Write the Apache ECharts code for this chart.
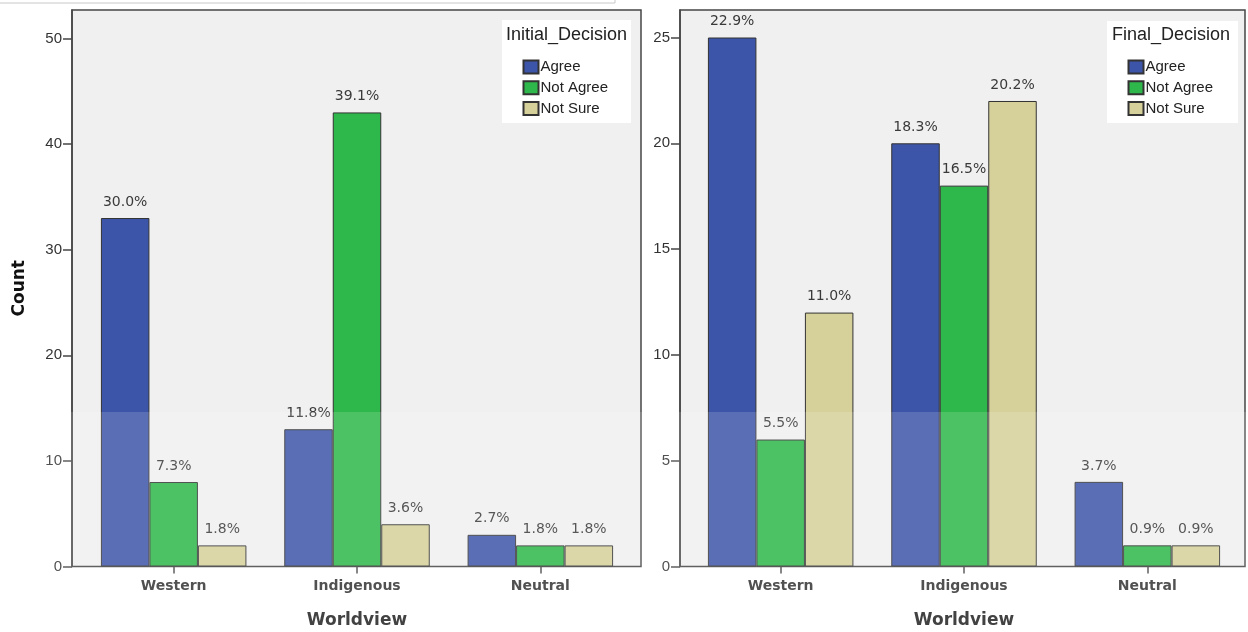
<!DOCTYPE html>
<html>
<head>
<meta charset="utf-8">
<script src="https://cdn.jsdelivr.net/npm/echarts@6/dist/echarts.min.js"></script>
<style>
  html, body { margin: 0; padding: 0; background: #ffffff; }
  #chart { width: 1248px; height: 632px; }
</style>
</head>
<body>
<div id="chart"></div>
<script>
// ---- data ----
const categories = ['Western', 'Indigenous', 'Neutral'];
const decisions = ['Agree', 'Not Agree', 'Not Sure'];

const initialAgree = [33, 13, 3];
const initialNotAgree = [8, 43, 2];
const initialNotSure = [2, 4, 2];
const initialAgreePct = ['30.0%', '11.8%', '2.7%'];
const initialNotAgreePct = ['7.3%', '39.1%', '1.8%'];
const initialNotSurePct = ['1.8%', '3.6%', '1.8%'];

const finalAgree = [25, 20, 4];
const finalNotAgree = [6, 18, 1];
const finalNotSure = [12, 22, 1];
const finalAgreePct = ['22.9%', '18.3%', '3.7%'];
const finalNotAgreePct = ['5.5%', '16.5%', '0.9%'];
const finalNotSurePct = ['11.0%', '20.2%', '0.9%'];

const initialTicks = [0, 10, 20, 30, 40, 50];
const finalTicks = [0, 5, 10, 15, 20, 25];
const initialMax = 52.7;
const finalMax = 26.3;

// ---- styles ----
const colors = ['#3c55a8', '#2eb84b', '#d6d19b'];
const axisColor = '#454545';
const TOP = 10, BOTTOM = 65.5;

function frameGrid(left, width) {
  return { left: left, top: TOP, width: width, bottom: BOTTOM, show: true, outerBoundsMode: 'none',
           containLabel: false,
           backgroundColor: '#f0f0f0', borderColor: axisColor, borderWidth: 1.5 };
}
function barGrid(left, width) {
  return { left: left, top: TOP, width: width, bottom: BOTTOM, outerBoundsMode: 'none', containLabel: false };
}
function hiddenX(gi) {
  return { gridIndex: gi, type: 'value', min: 0, max: 1, show: false };
}
function catX(gi) {
  return {
    gridIndex: gi, type: 'category', data: categories,
    axisLine: { show: false },
    axisTick: { show: true, alignWithLabel: true, length: 7, lineStyle: { color: axisColor, width: 1.5 } },
    axisLabel: { margin: 13, fontFamily: 'DejaVu Sans', fontWeight: 'bold', fontSize: 14, color: '#333' },
    name: 'Worldview', nameLocation: 'middle', nameGap: 46,
    nameTextStyle: { fontFamily: 'DejaVu Sans', fontWeight: 'bold', fontSize: 17, color: '#222' }
  };
}
function frameY(gi, max, ticks, name) {
  return {
    gridIndex: gi, type: 'value', min: 0, max: max,
    splitLine: { show: false },
    axisLine: { show: true, lineStyle: { color: axisColor, width: 1.5 } },
    axisTick: { show: true, length: 9, customValues: ticks, lineStyle: { color: axisColor, width: 1.5 } },
    axisLabel: { margin: 10, customValues: ticks, fontFamily: 'Liberation Sans', fontSize: 15, color: '#333' },
    name: name, nameLocation: 'middle', nameGap: 44,
    nameTextStyle: { fontFamily: 'DejaVu Sans', fontWeight: 'bold', fontSize: 17, color: '#111' }
  };
}
function hiddenY(gi, max) {
  return { gridIndex: gi, type: 'value', min: 0, max: max, show: false, splitLine: { show: false } };
}
function barSeries(name, idx, axisIdx, values, pcts) {
  return {
    type: 'bar', name: name, xAxisIndex: axisIdx, yAxisIndex: axisIdx,
    data: values, barWidth: 48.5, barGap: '0%',
    itemStyle: { color: colors[idx], borderColor: '#333', borderWidth: 1 },
    label: { show: true, position: 'top', distance: 9, fontFamily: 'DejaVu Sans', fontSize: 14, color: '#3a3a3a',
             formatter: p => pcts[p.dataIndex] },
    emphasis: { disabled: true }
  };
}
function legendBox(x, y, w, h) {
  return { type: 'rect', left: x, top: y, shape: { width: w, height: h }, style: { fill: '#ffffff' }, z: 1 };
}
function legendFor(left) {
  return { data: decisions, orient: 'vertical', left: left, top: 59.5, padding: 0, itemGap: 5.7,
           itemWidth: 15, itemHeight: 13, icon: 'rect', selectedMode: false,
           textStyle: { fontFamily: 'Liberation Sans', fontSize: 15, color: '#222', padding: [0, 0, 0, -3] } };
}

const chart = echarts.init(document.getElementById('chart'), null, { renderer: 'canvas' });
chart.setOption({
  animation: false,
  backgroundColor: '#ffffff',
  grid: [frameGrid(72, 569), barGrid(82, 550), frameGrid(680, 565), barGrid(689, 550)],
  xAxis: [hiddenX(0), catX(1), hiddenX(2), catX(3)],
  yAxis: [frameY(0, initialMax, initialTicks, 'Count'), hiddenY(1, initialMax),
          frameY(2, finalMax, finalTicks, ''), hiddenY(3, finalMax)],
  title: [
    { text: 'Initial_Decision', left: 506, top: 26, padding: 0,
      textStyle: { fontFamily: 'Liberation Sans', fontWeight: 'normal', fontSize: 18, color: '#222' } },
    { text: 'Final_Decision', left: 1112, top: 26, padding: 0,
      textStyle: { fontFamily: 'Liberation Sans', fontWeight: 'normal', fontSize: 18, color: '#222' } }
  ],
  legend: [legendFor(522.5), legendFor(1127.5)],
  graphic: [
    legendBox(502, 20, 129, 103),
    legendBox(1107, 21, 131, 102),
    { type: 'polyline', shape: { points: [[0, 3], [615, 3], [615, 0]] },
      style: { stroke: '#c8c8c8', lineWidth: 1, fill: null }, z: 1 },
    { type: 'rect', left: 0, top: 412, shape: { width: 1248, height: 220 },
      style: { fill: 'rgba(255,255,255,0.15)' }, z: 100, silent: true }
  ],
  series: [
    barSeries(decisions[0], 0, 1, initialAgree, initialAgreePct),
    barSeries(decisions[1], 1, 1, initialNotAgree, initialNotAgreePct),
    barSeries(decisions[2], 2, 1, initialNotSure, initialNotSurePct),
    barSeries(decisions[0], 0, 3, finalAgree, finalAgreePct),
    barSeries(decisions[1], 1, 3, finalNotAgree, finalNotAgreePct),
    barSeries(decisions[2], 2, 3, finalNotSure, finalNotSurePct)
  ]
});
</script>
</body>
</html>
